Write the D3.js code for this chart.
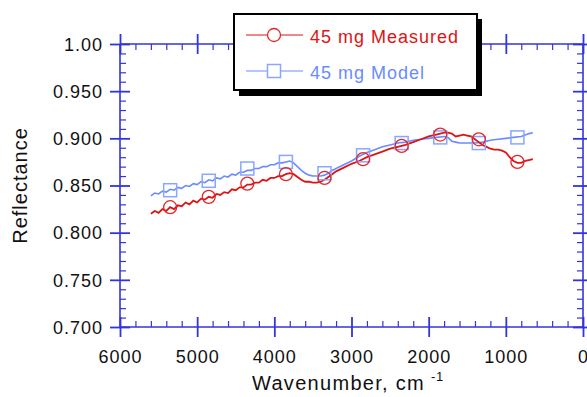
<!DOCTYPE html>
<html><head><meta charset="utf-8">
<script src="https://cdn.jsdelivr.net/npm/d3@7"></script>
<style>
html,body{margin:0;padding:0;background:#fff;}
svg{display:block;}
text{font-family:"Liberation Sans",Arial,sans-serif;}
</style></head>
<body>
<script>
// ---- data ----
const measuredX = [5600,5550,5500,5450,5400,5350,5300,5250,5200,5150,5100,5050,5000,4950,4900,4850,4800,4750,4700,4650,4600,4550,4500,4450,4400,4350,4300,4250,4200,4150,4100,4050,4000,3950,3900,3850,3800,3750,3700,3650,3600,3550,3500,3450,3400,3350,3300,3250,3200,3100,3000,2900,2800,2700,2600,2500,2400,2300,2200,2100,2000,1900,1800,1750,1700,1650,1600,1550,1500,1450,1400,1350,1300,1250,1200,1150,1100,1050,1000,950,900,850,800,750,700,650];
const measuredY = [0.820,0.823,0.821,0.825,0.823,0.827,0.825,0.829,0.828,0.832,0.830,0.834,0.832,0.836,0.835,0.838,0.837,0.841,0.840,0.843,0.842,0.846,0.845,0.848,0.848,0.851,0.851,0.853,0.853,0.856,0.855,0.858,0.858,0.860,0.860,0.862,0.863,0.862,0.859,0.856,0.854,0.854,0.853,0.853,0.854,0.856,0.859,0.862,0.865,0.869,0.873,0.876,0.880,0.883,0.886,0.889,0.891,0.893,0.896,0.899,0.902,0.904,0.906,0.906,0.905,0.902,0.903,0.904,0.903,0.902,0.899,0.896,0.893,0.891,0.889,0.888,0.888,0.887,0.885,0.880,0.876,0.874,0.874,0.876,0.877,0.878];
const modelX = [5600,5550,5500,5450,5400,5350,5300,5250,5200,5150,5100,5050,5000,4950,4900,4850,4800,4750,4700,4650,4600,4550,4500,4450,4400,4350,4300,4250,4200,4150,4100,4050,4000,3950,3900,3850,3800,3750,3700,3650,3600,3550,3500,3450,3400,3350,3300,3250,3200,3100,3000,2900,2800,2700,2600,2500,2400,2300,2200,2100,2000,1900,1800,1750,1700,1650,1600,1500,1400,1300,1200,1100,1000,900,800,700,650];
const modelY = [0.839,0.842,0.841,0.844,0.843,0.846,0.845,0.848,0.847,0.850,0.849,0.852,0.851,0.854,0.853,0.856,0.855,0.858,0.857,0.860,0.859,0.862,0.861,0.864,0.864,0.866,0.866,0.868,0.868,0.870,0.870,0.872,0.872,0.874,0.874,0.875,0.876,0.874,0.870,0.866,0.863,0.861,0.860,0.860,0.860,0.861,0.863,0.866,0.868,0.872,0.876,0.881,0.885,0.888,0.891,0.893,0.895,0.896,0.898,0.899,0.900,0.901,0.902,0.901,0.897,0.896,0.895,0.895,0.895,0.896,0.898,0.899,0.900,0.901,0.902,0.905,0.906];
const markerX = [5350,4850,4350,3850,3350,2850,2350,1850,1350,850];
const measuredMarkY = [0.827,0.838,0.852,0.862,0.858,0.878,0.892,0.904,0.899,0.875];
const modelMarkY = [0.845,0.855,0.868,0.875,0.863,0.882,0.895,0.901,0.895,0.901];
const xTicks = [6000,5000,4000,3000,2000,1000,0];
const xTickLabels = ["6000","5000","4000","3000","2000","1000","0"];
const yTicks = [1.00,0.95,0.90,0.85,0.80,0.75,0.70];
const yTickLabels = ["1.00","0.950","0.900","0.850","0.800","0.750","0.700"];
const seriesNames = ["45 mg Measured","45 mg Model"];

// ---- layout ----
const W=587,H=397;
const L=120,R=583,T=44,B=327;
const axisColor="#3434dc";
const redC="#dc1414", blueC="#6a8cff";

const svg=d3.select("body").append("svg").attr("width",W).attr("height",H);
const x=d3.scaleLinear().domain([6000,0]).range([L,R]);
const y=d3.scaleLinear().domain([0.7,1.0]).range([B,T]);

const xMinor=d3.range(0,6001,200).filter(v=>v%1000!==0);
const yMinor=d3.range(70,101,1).filter(v=>v%5!==0).map(v=>v/100);

function styleAxis(g){
  g.select(".domain").remove();
  g.selectAll("line").attr("stroke",axisColor);
}
const frame=svg.append("g").attr("stroke",axisColor).attr("stroke-width",1.6);
frame.append("line").attr("x1",L).attr("x2",R).attr("y1",T).attr("y2",T);
frame.append("line").attr("x1",L).attr("x2",R).attr("y1",B).attr("y2",B);
frame.append("line").attr("x1",L).attr("x2",L).attr("y1",T).attr("y2",B);
frame.append("line").attr("x1",R).attr("x2",R).attr("y1",T).attr("y2",B);

function addAxis(axis, tx, ty, labels, sw){
  const g=svg.append("g").attr("transform",`translate(${tx},${ty})`).call(axis);
  styleAxis(g);
  g.selectAll("line").attr("stroke-width",sw);
  if(!labels) g.selectAll("text").remove();
  return g;
}
// bottom
const bx=addAxis(d3.axisBottom(x).tickValues(xTicks).tickSize(10).tickFormat((d,i)=>xTickLabels[i]),0,B,true,1.8);
bx.selectAll("text").attr("dy",0).attr("font-size",18).attr("letter-spacing",1).attr("fill","#111").attr("dominant-baseline","hanging").attr("y",23);
addAxis(d3.axisTop(x).tickValues(xTicks).tickSize(10),0,B,false,1.8);
addAxis(d3.axisTop(x).tickValues(xMinor).tickSize(6),0,B,false,1.2);
// top
addAxis(d3.axisTop(x).tickValues(xTicks).tickSize(10),0,T,false,1.8);
addAxis(d3.axisBottom(x).tickValues(xTicks).tickSize(10),0,T,false,1.8);
addAxis(d3.axisBottom(x).tickValues(xMinor).tickSize(6),0,T,false,1.2);
// left
const ly=addAxis(d3.axisLeft(y).tickValues(yTicks).tickSize(10).tickFormat((d,i)=>yTickLabels[i]),L,0,true,1.8);
ly.selectAll("text").attr("x",-17).attr("dy","0.35em").attr("font-size",18).attr("letter-spacing",1).attr("fill","#111");
addAxis(d3.axisRight(y).tickValues(yTicks).tickSize(10),L,0,false,1.8);
addAxis(d3.axisRight(y).tickValues(yMinor).tickSize(6),L,0,false,1.2);
// right
addAxis(d3.axisRight(y).tickValues(yTicks).tickSize(10),R,0,false,1.8);
addAxis(d3.axisLeft(y).tickValues(yTicks).tickSize(10),R,0,false,1.8);
addAxis(d3.axisLeft(y).tickValues(yMinor).tickSize(6),R,0,false,1.2);

// titles
svg.append("text").attr("transform",`translate(27,${(T+B)/2}) rotate(-90)`).attr("text-anchor","middle")
  .attr("font-size",20).attr("letter-spacing",1).attr("fill","#111").text("Reflectance");
const xt=svg.append("text").attr("x",252).attr("y",390).attr("font-size",20).attr("letter-spacing",1.3).attr("fill","#111");
xt.append("tspan").text("Wavenumber, cm");
xt.append("tspan").attr("dx",6).attr("dy",-9).attr("font-size",13).attr("letter-spacing",0.5).text("-1");

// lines
const line=d3.line().x(d=>x(d[0])).y(d=>y(d[1]));
svg.append("path").datum(modelX.map((v,i)=>[v,modelY[i]])).attr("d",line)
  .attr("fill","none").attr("stroke",blueC).attr("stroke-width",1.6);
svg.append("path").datum(measuredX.map((v,i)=>[v,measuredY[i]])).attr("d",line)
  .attr("fill","none").attr("stroke",redC).attr("stroke-width",1.8);

// markers
const sq=13;
svg.append("g").selectAll("rect").data(markerX.map((v,i)=>[v,modelMarkY[i]])).join("rect")
  .attr("x",d=>x(d[0])-sq/2).attr("y",d=>y(d[1])-sq/2).attr("width",sq).attr("height",sq)
  .attr("fill","none").attr("stroke","#8aa6ff").attr("stroke-width",1.5);
svg.append("g").selectAll("circle").data(markerX.map((v,i)=>[v,measuredMarkY[i]])).join("circle")
  .attr("cx",d=>x(d[0])).attr("cy",d=>y(d[1])).attr("r",6.5)
  .attr("fill","none").attr("stroke","#e02828").attr("stroke-width",1.3);

// legend
const lg=svg.append("g");
lg.append("rect").attr("x",239).attr("y",19).attr("width",243).attr("height",77).attr("fill","#000");
lg.append("rect").attr("x",234).attr("y",14).attr("width",243).attr("height",76).attr("fill","#fff").attr("stroke","#000").attr("stroke-width",2);
const legItems=[{name:seriesNames[0],c:redC,y:35,m:"circle"},{name:seriesNames[1],c:blueC,y:71,m:"rect"}];
legItems.forEach(it=>{
  lg.append("line").attr("x1",246).attr("x2",303).attr("y1",it.y).attr("y2",it.y).attr("stroke",it.c).attr("stroke-width",1.2);
  if(it.m==="circle") lg.append("circle").attr("cx",274).attr("cy",it.y).attr("r",6.5).attr("fill","#fff").attr("stroke","#e02828").attr("stroke-width",1.3);
  else lg.append("rect").attr("x",274-sq/2).attr("y",it.y-sq/2).attr("width",sq).attr("height",sq).attr("fill","#fff").attr("stroke","#8aa6ff").attr("stroke-width",1.5);
  lg.append("text").attr("x",310).attr("y",it.y+7.5).attr("font-size",18).attr("letter-spacing",1).attr("fill",it.c).text(it.name);
});
</script>
</body></html>
